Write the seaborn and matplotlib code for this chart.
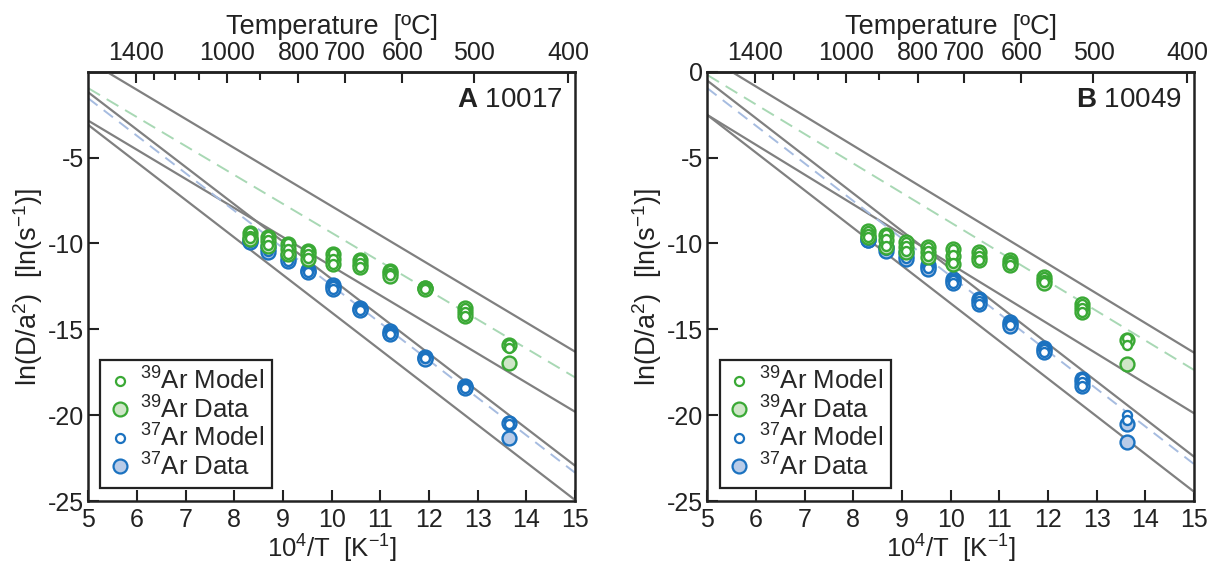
import numpy as np
import pandas as pd
import matplotlib
matplotlib.use("Agg")
import matplotlib.pyplot as plt
import seaborn as sns
from matplotlib.lines import Line2D

# ---------------- data ----------------
# x axis: 10^4/T [1/K]; y axis: ln(D/a^2) [ln(1/s)]
# Panel A (sample 10017)
x_A = [8.32, 8.32, 8.32, 8.69, 8.69, 8.69, 9.10, 9.10, 9.10, 9.52, 9.52, 9.52,
       10.03, 10.03, 10.03, 10.58, 10.58, 10.58, 11.20, 11.20, 11.20,
       11.92, 11.92, 11.92, 12.73, 12.73, 12.73, 13.65, 13.65]
ar39_model_A = [-9.35, -9.55, -9.70, -9.55, -9.80, -10.10, -10.00, -10.30, -10.60,
                -10.40, -10.60, -10.85, -10.55, -10.90, -11.20, -10.90, -11.15, -11.35,
                -11.55, -11.70, -11.85, -12.55, -12.60, -12.65, -13.75, -14.00, -14.20,
                -15.85, -16.10]
ar39_data_A = [-9.40, -9.60, -9.72, -9.60, -9.85, -10.12, -10.05, -10.32, -10.62,
               -10.45, -10.62, -10.88, -10.60, -10.92, -11.22, -10.95, -11.18, -11.38,
               -11.58, -11.72, -11.88, -12.58, -12.62, -12.68, -13.78, -14.02, -14.22,
               -15.90, -16.95]
ar37_model_A = [-9.75, -9.85, -9.90, -10.10, -10.30, -10.45, -10.65, -10.85, -11.00,
                -11.50, -11.55, -11.65, -12.40, -12.50, -12.65, -13.75, -13.80, -13.85,
                -15.10, -15.20, -15.25, -16.60, -16.65, -16.70, -18.30, -18.35, -18.40,
                -20.35, -20.50]
ar37_data_A = [-9.78, -9.88, -9.92, -10.12, -10.32, -10.48, -10.68, -10.88, -11.02,
               -11.52, -11.58, -11.68, -12.42, -12.52, -12.68, -13.78, -13.82, -13.88,
               -15.12, -15.22, -15.28, -16.62, -16.68, -16.72, -18.32, -18.38, -18.42,
               -20.45, -21.35]

# Panel B (sample 10049)
x_B = [8.31, 8.31, 8.31, 8.67, 8.67, 8.67, 9.08, 9.08, 9.08, 9.53, 9.53, 9.53,
       10.04, 10.04, 10.04, 10.59, 10.59, 10.59, 11.21, 11.21, 11.21,
       11.92, 11.92, 11.92, 12.69, 12.69, 12.69, 13.63, 13.63]
ar39_model_B = [-9.25, -9.45, -9.60, -9.45, -9.75, -10.15, -9.90, -10.15, -10.45,
                -10.20, -10.45, -10.75, -10.30, -10.70, -11.15, -10.50, -10.75, -10.95,
                -10.95, -11.10, -11.25, -11.95, -12.10, -12.25, -13.50, -13.75, -14.00,
                -15.50, -15.90]
ar39_data_B = [-9.28, -9.48, -9.62, -9.48, -9.78, -10.18, -9.92, -10.18, -10.48,
               -10.22, -10.48, -10.78, -10.32, -10.72, -11.18, -10.52, -10.78, -10.98,
               -10.98, -11.12, -11.28, -11.98, -12.12, -12.28, -13.52, -13.78, -14.02,
               -15.60, -17.00]
ar37_model_B = [-9.65, -9.75, -9.80, -10.15, -10.25, -10.40, -10.50, -10.70, -10.85,
                -11.25, -11.35, -11.45, -12.05, -12.15, -12.30, -13.20, -13.35, -13.50,
                -14.55, -14.65, -14.75, -16.05, -16.15, -16.30, -17.85, -18.05, -18.30,
                -20.00, -20.30]
ar37_data_B = [-9.68, -9.78, -9.82, -10.18, -10.28, -10.42, -10.52, -10.72, -10.88,
               -11.28, -11.38, -11.48, -12.08, -12.18, -12.32, -13.22, -13.38, -13.52,
               -14.58, -14.68, -14.78, -16.08, -16.18, -16.32, -17.88, -18.08, -18.32,
               -20.50, -21.55]

# Arrhenius reference lines: ln(D/a^2) at 10^4/T = 5 and at 10^4/T = 15
line_x = [5, 15]
gray_lines_A = [(0.64, -16.30), (-1.20, -22.94), (-2.85, -19.80), (-3.10, -24.94)]
fit39_A = (-0.96, -17.80)
fit37_A = (-1.55, -23.35)
gray_lines_B = [(0.86, -16.36), (-0.52, -22.42), (-2.52, -19.89), (-2.52, -24.46)]
fit39_B = (-0.19, -17.37)
fit37_B = (-0.96, -22.85)

panel_labels = ["A", "B"]
sample_ids = ["10017", "10049"]
temp_major = [1400, 1000, 800, 700, 600, 500, 400]
temp_minor = [1300, 1200, 1100, 900]
x_ticks = list(range(5, 16))
y_ticks_A = [-25, -20, -15, -10, -5]
y_ticks_B = [-25, -20, -15, -10, -5, 0]

# ---------------- style ----------------
sns.set_theme(style="ticks")
plt.rcParams['font.family'] = ['Liberation Sans', 'DejaVu Sans']
plt.rcParams['mathtext.fontset'] = 'custom'
plt.rcParams['mathtext.rm'] = 'Liberation Sans'
plt.rcParams['mathtext.it'] = 'Liberation Sans:italic'
plt.rcParams['mathtext.bf'] = 'Liberation Sans:bold'

GREEN = "#3aa935"
BLUE = "#1b72c0"
PALE_GREEN = "#cfe6c8"
PALE_BLUE = "#b9cce8"
DASH_GREEN = "#a8d8b4"
DASH_BLUE = "#a6bce0"
GRAY = "#808080"
AXC = "#222222"

TICK_FS = 18
LAB_FS = 19.5
XLAB_FS = 18.5

fig = plt.figure(figsize=(12.11, 5.63), dpi=100)
axA = fig.add_axes([0.0729, 0.1101, 0.4019, 0.7625])
axB = fig.add_axes([0.5841, 0.1101, 0.4019, 0.7625])


def inv_to_C(x):
    x = np.asarray(x, dtype=float)
    with np.errstate(divide='ignore', invalid='ignore'):
        return 1e4 / x - 273.15


def C_to_inv(t):
    t = np.asarray(t, dtype=float)
    with np.errstate(divide='ignore', invalid='ignore'):
        return 1e4 / (t + 273.15)


def draw_panel(ax, x, m39, d39, m37, d37, grays, f39, f37, label, sid, yticks):
    for (y0, y1) in grays:
        sns.lineplot(x=line_x, y=[y0, y1], ax=ax, color=GRAY, lw=1.6, zorder=1)
    sns.lineplot(x=line_x, y=list(f39), ax=ax, color=DASH_GREEN, lw=1.4,
                 zorder=1.5).lines[-1].set_dashes([7, 4])
    sns.lineplot(x=line_x, y=list(f37), ax=ax, color=DASH_BLUE, lw=1.4,
                 zorder=1.5).lines[-1].set_dashes([6, 4])

    df = pd.DataFrame({"x": x, "m39": m39, "d39": d39, "m37": m37, "d37": d37})
    sns.scatterplot(data=df, x="x", y="d37", ax=ax, s=100, color=PALE_BLUE,
                    edgecolor=BLUE, linewidth=1.7, zorder=3, legend=False)
    sns.scatterplot(data=df, x="x", y="m37", ax=ax, s=42, color="white",
                    edgecolor=BLUE, linewidth=1.7, zorder=4, legend=False)
    sns.scatterplot(data=df, x="x", y="d39", ax=ax, s=100, color=PALE_GREEN,
                    edgecolor=GREEN, linewidth=1.7, zorder=5, legend=False)
    sns.scatterplot(data=df, x="x", y="m39", ax=ax, s=42, color="white",
                    edgecolor=GREEN, linewidth=1.7, zorder=6, legend=False)

    ax.set_xlim(5, 15)
    ax.set_ylim(-25, 0)
    ax.set_xticks(x_ticks)
    ax.set_yticks(yticks)
    ax.set_xticklabels([str(v) for v in x_ticks])
    ax.set_yticklabels([str(v) for v in yticks])
    ax.tick_params(direction='in', length=8, width=1.5, labelsize=TICK_FS,
                   colors=AXC)
    ax.tick_params(axis='x', pad=5)
    ax.tick_params(axis='y', pad=3)
    for sp in ax.spines.values():
        sp.set_linewidth(1.8)
        sp.set_color(AXC)
        sp.set_visible(True)
    ax.set_xlabel(r"10$^4$/T  [K$^{-1}$]", fontsize=XLAB_FS, color=AXC, labelpad=0.5)
    ax.set_ylabel(r"ln(D/a$^2$)  [ln(s$^{-1}$)]", fontsize=LAB_FS, color=AXC, labelpad=2)

    sec = ax.secondary_xaxis('top', functions=(inv_to_C, C_to_inv))
    sec.set_xticks(temp_major)
    sec.set_xticklabels([str(t) for t in temp_major])
    sec.set_xticks(temp_minor, minor=True)
    sec.tick_params(which='major', direction='in', length=8, width=1.5,
                    labelsize=TICK_FS, colors=AXC, pad=5)
    sec.tick_params(which='minor', direction='in', length=6, width=1.5, colors=AXC)
    sec.spines['top'].set_linewidth(1.8)
    sec.set_xlabel("Temperature  [ºC]", fontsize=LAB_FS, color=AXC, labelpad=5)

    ax.text(0.975, 0.933, r"$\bf{" + label + "}$ " + sid, transform=ax.transAxes,
            ha='right', va='center', fontsize=20, color=AXC)

    handles = [
        Line2D([], [], marker='o', ls='none', ms=6.5, mfc='white', mec=GREEN, mew=1.6,
               label=r"$^{39}$Ar Model"),
        Line2D([], [], marker='o', ls='none', ms=10, mfc=PALE_GREEN, mec=GREEN, mew=1.6,
               label=r"$^{39}$Ar Data"),
        Line2D([], [], marker='o', ls='none', ms=6.5, mfc='white', mec=BLUE, mew=1.6,
               label=r"$^{37}$Ar Model"),
        Line2D([], [], marker='o', ls='none', ms=10, mfc=PALE_BLUE, mec=BLUE, mew=1.6,
               label=r"$^{37}$Ar Data"),
    ]
    leg = ax.legend(handles=handles, loc='lower left', bbox_to_anchor=(0.025, 0.03),
                    borderaxespad=0, fontsize=18.5, frameon=True, fancybox=False,
                    framealpha=1, edgecolor=AXC, handlelength=0.9, handletextpad=0.35,
                    labelspacing=0.05, borderpad=0.3)
    leg.get_frame().set_linewidth(1.6)


draw_panel(axA, x_A, ar39_model_A, ar39_data_A, ar37_model_A, ar37_data_A,
           gray_lines_A, fit39_A, fit37_A, panel_labels[0], sample_ids[0], y_ticks_A)
draw_panel(axB, x_B, ar39_model_B, ar39_data_B, ar37_model_B, ar37_data_B,
           gray_lines_B, fit39_B, fit37_B, panel_labels[1], sample_ids[1], y_ticks_B)

fig.savefig("out.png", dpi=100)
